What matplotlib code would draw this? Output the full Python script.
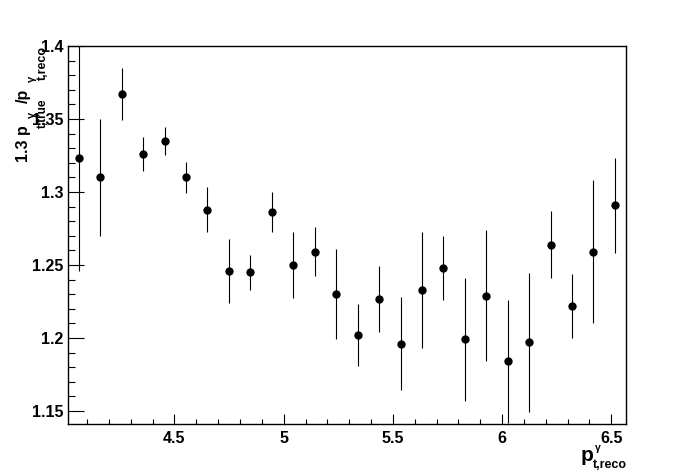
import matplotlib
matplotlib.use("Agg")
import matplotlib.pyplot as plt
from matplotlib.ticker import MultipleLocator

plt.rcParams['font.family'] = ['Liberation Sans', 'DejaVu Sans']
plt.rcParams['font.weight'] = 'bold'

# data
pt_reco = [4.063, 4.161, 4.259, 4.357, 4.455, 4.553, 4.651, 4.750, 4.848, 4.946,
           5.044, 5.142, 5.240, 5.339, 5.437, 5.535, 5.633, 5.731, 5.829, 5.928,
           6.026, 6.124, 6.222, 6.320, 6.418, 6.517]
ratio = [1.323, 1.310, 1.367, 1.326, 1.335, 1.310, 1.288, 1.246, 1.245, 1.286,
         1.250, 1.259, 1.230, 1.202, 1.227, 1.196, 1.233, 1.248, 1.199, 1.229,
         1.184, 1.197, 1.264, 1.222, 1.259, 1.291]
ratio_err = [0.077, 0.040, 0.0177, 0.0115, 0.0096, 0.0105, 0.0155, 0.022, 0.012, 0.0137,
             0.0225, 0.0167, 0.031, 0.021, 0.0226, 0.0318, 0.0396, 0.022, 0.042, 0.045,
             0.042, 0.0476, 0.023, 0.022, 0.049, 0.0325]
x_ticks = [4.5, 5.0, 5.5, 6.0, 6.5]
x_ticklabels = ['4.5', '5', '5.5', '6', '6.5']
y_ticks = [1.15, 1.2, 1.25, 1.3, 1.35, 1.4]
y_ticklabels = ['1.15', '1.2', '1.25', '1.3', '1.35', '1.4']

W, H = 696, 474
fig = plt.figure(figsize=(W / 100, H / 100), dpi=100)
ax = fig.add_axes([68.3 / W, 1 - 424.3 / H, (625.7 - 68.3) / W, (424.3 - 46) / H])

ax.errorbar(pt_reco, ratio, yerr=ratio_err, fmt='o', color='black', ms=6,
            elinewidth=0.8, capsize=2, capthick=0.8, markeredgewidth=0)

ax.set_xlim(4.014, 6.566)
ax.set_ylim(1.1409, 1.4)

ax.set_xticks(x_ticks)
ax.set_xticklabels(x_ticklabels)
ax.set_yticks(y_ticks)
ax.set_yticklabels(y_ticklabels)
ax.xaxis.set_minor_locator(MultipleLocator(0.1))
ax.yaxis.set_minor_locator(MultipleLocator(0.01))

ax.tick_params(axis='x', which='major', direction='in', length=7.2, width=0.8,
               labelsize=11.5, pad=4.5, top=False)
ax.tick_params(axis='x', which='minor', direction='in', length=3.4, width=0.8, top=False)
ax.tick_params(axis='y', which='major', direction='in', length=11.5, width=0.8,
               labelsize=11.5, pad=3.6, right=False)
ax.tick_params(axis='y', which='minor', direction='in', length=5.3, width=0.8, right=False)
for lab in ax.get_xticklabels() + ax.get_yticklabels():
    lab.set_fontweight('bold')
for s in ax.spines.values():
    s.set_linewidth(1.0)


def px(x, y):
    return x / W, 1 - y / H


# y-axis title built from pieces (rotated)
ykw = dict(rotation=90, rotation_mode='anchor', ha='left', va='baseline',
           fontweight='bold', transform=fig.transFigure)
fig.text(*px(28, 162), '1.3 p', fontsize=11.5, **ykw)
fig.text(*px(35, 118), 'γ', fontsize=8, **ykw)
fig.text(*px(45.5, 128), 't,true', fontsize=8.5, **ykw)
fig.text(*px(28, 103), '/p', fontsize=11.5, **ykw)
fig.text(*px(35, 82), 'γ', fontsize=8, **ykw)
fig.text(*px(45.5, 80), 't,reco', fontsize=9, **ykw)

# x-axis title built from pieces
xkw = dict(ha='left', va='baseline', fontweight='bold', transform=fig.transFigure)
fig.text(*px(581, 461), 'p', fontsize=15, **xkw)
fig.text(*px(595, 451), 'γ', fontsize=7.5, **xkw)
fig.text(*px(593, 467.5), 't,reco', fontsize=9, **xkw)

fig.savefig('out.png', dpi=100)
